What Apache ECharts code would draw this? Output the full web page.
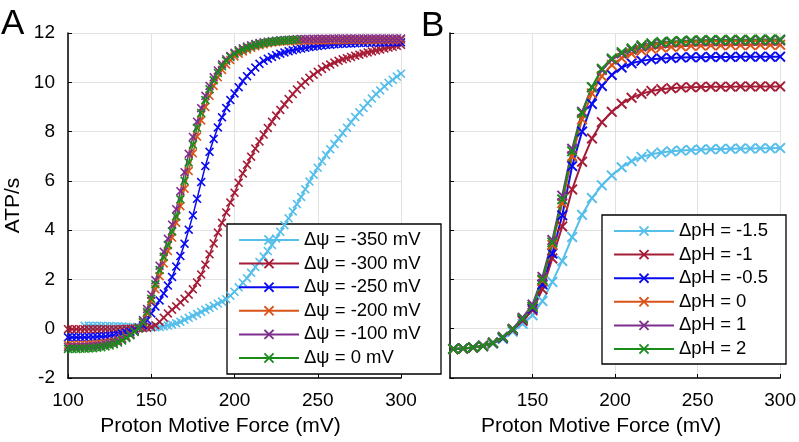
<!DOCTYPE html>
<html><head><meta charset="utf-8">
<script src="https://cdn.jsdelivr.net/npm/echarts/dist/echarts.min.js"></script>
<style>html,body{margin:0;padding:0;background:#fff}#c{width:799px;height:442px}</style>
</head><body><div id="c"></div>
<script>
// ---------- Panel A: ATP/s vs proton motive force at fixed membrane potential ----------
const pmfA = [100,102.5,105,107.5,110,112.5,115,117.5,120,122.5,125,127.5,130,132.5,135,137.5,140,142.5,145,147.5,150,152.5,155,157.5,160,162.5,165,167.5,170,172.5,175,177.5,180,182.5,185,187.5,190,192.5,195,197.5,200,202.5,205,207.5,210,212.5,215,217.5,220,222.5,225,227.5,230,232.5,235,237.5,240,242.5,245,247.5,250,252.5,255,257.5,260,262.5,265,267.5,270,272.5,275,277.5,280,282.5,285,287.5,290,292.5,295,297.5,300];
const psiM350 = [null,null,null,null,0.12,0.12,0.12,0.12,0.12,0.11,
  0.11,0.10,0.10,0.09,0.08,0.07,0.06,0.05,0.05,0.05,
  0.05,0.06,0.07,0.10,0.13,0.17,0.22,0.28,0.36,0.44,
  0.52,0.60,0.68,0.77,0.85,0.93,1.02,1.10,1.20,1.34,
  1.50,1.68,1.87,2.05,2.27,2.50,2.71,2.93,3.15,3.40,
  3.66,3.93,4.20,4.48,4.76,5.06,5.35,5.66,5.97,6.25,
  6.53,6.80,7.05,7.28,7.50,7.72,7.94,8.16,8.38,8.59,
  8.78,8.96,9.15,9.34,9.52,9.67,9.83,9.98,10.10,10.23,
  10.35];
const psiM300 = [-0.02,-0.02,-0.02,-0.02,-0.02,-0.02,-0.02,-0.02,-0.02,-0.02,
  -0.02,-0.02,-0.02,-0.01,0.00,0.00,0.01,0.01,0.02,0.04,
  0.07,0.14,0.28,0.45,0.62,0.77,0.91,1.07,1.22,1.38,
  1.60,1.88,2.20,2.60,3.02,3.46,3.90,4.30,4.72,5.12,
  5.52,5.92,6.30,6.65,6.98,7.31,7.60,7.88,8.15,8.40,
  8.65,8.88,9.10,9.32,9.52,9.71,9.88,10.03,10.18,10.31,
  10.43,10.54,10.64,10.72,10.80,10.87,10.93,10.98,11.03,11.08,
  11.12,11.17,11.21,11.25,11.29,11.33,11.37,11.41,11.44,11.48,
  11.52];
const psiM250 = [-0.35,-0.35,-0.35,-0.35,-0.35,-0.34,-0.34,-0.33,-0.32,-0.31,
  -0.29,-0.27,-0.25,-0.21,-0.17,-0.12,-0.06,0.02,0.14,0.35,
  0.62,0.90,1.15,1.43,1.75,2.10,2.52,2.95,3.45,4.02,
  4.60,5.27,5.95,6.60,7.18,7.70,8.17,8.58,8.96,9.28,
  9.55,9.80,10.05,10.25,10.43,10.60,10.75,10.87,10.96,11.03,
  11.10,11.16,11.21,11.26,11.30,11.34,11.37,11.40,11.43,11.45,
  11.47,11.49,11.51,11.52,11.54,11.55,11.56,11.57,11.57,11.58,
  11.59,11.59,11.60,11.60,11.61,11.61,11.61,11.62,11.62,11.62,
  11.62];
const psiM200 = [-0.66,-0.66,-0.66,-0.65,-0.65,-0.64,-0.63,-0.61,-0.60,-0.57,
  -0.55,-0.51,-0.46,-0.39,-0.31,-0.21,-0.10,0.03,0.25,0.62,
  1.12,1.60,2.13,2.65,3.15,3.70,4.30,4.97,5.68,6.40,
  7.12,7.80,8.45,9.00,9.45,9.85,10.20,10.50,10.72,10.90,
  11.05,11.16,11.25,11.33,11.40,11.46,11.50,11.54,11.58,11.61,
  11.63,11.65,11.66,11.67,11.68,11.68,11.69,11.69,11.70,11.70,
  11.70,11.70,11.71,11.71,11.71,11.71,11.71,11.72,11.72,11.72,
  11.72,11.72,11.72,11.72,11.72,11.73,11.73,11.73,11.73,11.73,
  11.73];
const psiM100 = [-0.74,-0.74,-0.74,-0.73,-0.73,-0.72,-0.71,-0.69,-0.67,-0.64,
  -0.61,-0.56,-0.50,-0.43,-0.34,-0.23,-0.10,0.06,0.35,0.80,
  1.38,1.97,2.56,3.12,3.65,4.22,4.85,5.58,6.35,7.10,
  7.78,8.40,8.95,9.45,9.85,10.20,10.48,10.73,10.93,11.07,
  11.20,11.30,11.38,11.45,11.50,11.55,11.59,11.62,11.65,11.67,
  11.69,11.71,11.72,11.73,11.74,11.75,11.76,11.76,11.76,11.77,
  11.77,11.77,11.77,11.77,11.78,11.78,11.78,11.78,11.78,11.78,
  11.78,11.78,11.78,11.78,11.78,11.78,11.78,11.78,11.78,11.78,
  11.78];
const psi0 = [-0.82,-0.82,-0.82,-0.81,-0.81,-0.80,-0.79,-0.77,-0.75,-0.72,
  -0.68,-0.63,-0.56,-0.48,-0.38,-0.27,-0.13,0.02,0.28,0.68,
  1.22,1.80,2.38,2.92,3.40,3.95,4.55,5.25,6.00,6.75,
  7.47,8.15,8.75,9.28,9.72,10.08,10.38,10.65,10.87,11.03,
  11.15,11.25,11.33,11.40,11.46,11.51,11.55,11.59,11.62,11.65,
  11.67,11.69,11.70,11.71,11.72,11.73,null,null,null,null,
  null,null,null,null,null,null,null,null,null,null,
  null,null,null,null,null,null,null,null,null,null,
  null];
const namesA = ['Δψ = -350 mV','Δψ = -300 mV','Δψ = -250 mV','Δψ = -200 mV','Δψ = -100 mV','Δψ = 0 mV'];

// ---------- Panel B: ATP/s vs proton motive force at fixed pH gradient ----------
const pmfB = [102,108,114,120,126,132,138,144,150,156,162,168,174,180,186,192,198,204,210,216,222,228,234,240,246,252,258,264,270,276,282,288,294,300];
const phM15 = [-0.82,-0.80,-0.76,-0.70,-0.60,-0.42,-0.12,0.20,0.55,1.12,1.90,2.75,3.72,4.62,5.30,5.82,6.22,6.55,6.80,6.97,7.08,7.15,7.20,7.23,7.25,7.27,7.28,7.29,7.30,7.31,7.31,7.32,7.32,7.33];
const phM1 = [-0.82,-0.80,-0.76,-0.70,-0.58,-0.38,-0.06,0.32,0.75,1.60,2.85,4.15,5.65,6.78,7.72,8.38,8.80,9.13,9.37,9.53,9.65,9.72,9.76,9.79,9.80,9.81,9.82,9.82,9.82,9.83,9.83,9.83,9.83,9.83];
const phM05 = [-0.82,-0.80,-0.76,-0.70,-0.58,-0.37,-0.04,0.38,0.82,1.80,3.05,4.60,6.60,8.00,9.12,9.85,10.30,10.60,10.77,10.87,10.93,10.97,10.99,11.01,11.02,11.02,11.03,11.03,11.03,11.04,11.04,11.04,11.04,11.04];
const ph0 = [-0.83,-0.81,-0.77,-0.70,-0.57,-0.35,-0.03,0.40,0.88,1.95,3.40,5.10,7.00,8.50,9.55,10.25,10.70,10.98,11.16,11.28,11.36,11.41,11.44,11.46,11.48,11.49,11.50,11.50,11.51,11.51,11.51,11.52,11.52,11.52];
const ph1 = [-0.82,-0.80,-0.76,-0.69,-0.56,-0.33,0.00,0.45,0.98,2.10,3.60,5.40,7.30,8.80,9.80,10.50,10.92,11.17,11.33,11.45,11.53,11.58,11.62,11.64,11.66,11.67,11.68,11.68,11.69,11.69,11.69,11.70,11.70,11.70];
const ph2 = [-0.82,-0.80,-0.76,-0.70,-0.57,-0.35,-0.02,0.40,0.90,2.00,3.50,5.25,7.20,8.75,9.80,10.55,10.97,11.22,11.38,11.50,11.58,11.63,11.66,11.68,11.70,11.71,11.72,11.72,11.73,11.73,11.73,11.74,11.74,11.74];
const namesB = ['ΔpH = -1.5','ΔpH = -1','ΔpH = -0.5','ΔpH = 0','ΔpH = 1','ΔpH = 2'];

const colors = ['#55BEEA','#A51C36','#0A0AF0','#D95319','#7E2F8E','#1A8C1A'];
const FONT = '"Liberation Sans", Arial, Helvetica, sans-serif';
const XSYM = 'path://M0,2.5L2.5,0L10,7.5L17.5,0L20,2.5L12.5,10L20,17.5L17.5,20L10,12.5L2.5,20L0,17.5L7.5,10Z';

function pairs(xs, ys) {
  const out = [];
  for (let i = 0; i < xs.length; i++) if (ys[i] !== null) out.push([xs[i], ys[i]]);
  return out;
}
const seriesA = [psiM350, psiM300, psiM250, psiM200, psiM100, psi0];
const seriesB = [phM15, phM1, phM05, ph0, ph1, ph2];

const series = [];
seriesA.forEach((ys, i) => series.push({
  type: 'line', name: namesA[i], xAxisIndex: 0, yAxisIndex: 0,
  data: pairs(pmfA, ys), symbol: XSYM, symbolSize: 9,
  itemStyle: { color: colors[i] }, lineStyle: { color: colors[i], width: 1.5 },
  silent: true, clip: false
}));
seriesB.forEach((ys, i) => series.push({
  type: 'line', name: namesB[i], xAxisIndex: 1, yAxisIndex: 1,
  data: pairs(pmfB, ys), symbol: XSYM, symbolSize: 11,
  itemStyle: { color: colors[i] }, lineStyle: { color: colors[i], width: 2 },
  silent: true, clip: false
}));

function xAx(idx, showMin) {
  return {
    type: 'value', gridIndex: idx, min: 100, max: 300, interval: 50,
    name: 'Proton Motive Force (mV)', nameLocation: 'middle', nameGap: 38,
    nameTextStyle: { fontSize: 21, color: '#000', fontFamily: FONT, padding: [0, 28, 0, 0] },
    axisLine: { show: true, onZero: false, lineStyle: { color: '#000', width: 1.5 } },
    axisTick: { show: true, inside: true, length: 4, lineStyle: { color: '#000', width: 1 } },
    axisLabel: { fontSize: 19, color: '#000', fontFamily: FONT, margin: 13, showMinLabel: showMin },
    splitLine: { show: true, lineStyle: { color: '#E2E2E2', width: 1 } }
  };
}
function yAx(idx, labels) {
  return {
    type: 'value', gridIndex: idx, min: -2, max: 12, interval: 2,
    name: labels ? 'ATP/s' : '', nameLocation: 'middle', nameGap: 44,
    nameTextStyle: { fontSize: 21, color: '#000', fontFamily: FONT },
    axisLine: { show: true, onZero: false, lineStyle: { color: '#000', width: 1.5 } },
    axisTick: { show: true, inside: true, length: 4, lineStyle: { color: '#000', width: 1 } },
    axisLabel: { show: labels, fontSize: 19, color: '#000', fontFamily: FONT, margin: 13 },
    splitLine: { show: true, lineStyle: { color: '#E2E2E2', width: 1 } }
  };
}
function legendOf(names, left, top) {
  return {
    data: names, orient: 'vertical', left: left, top: top, padding: 0,
    itemWidth: 60, itemHeight: 13, itemGap: 3.6, selectedMode: false, z: 5,
    textStyle: { fontSize: 18.5, lineHeight: 20, color: '#000', fontFamily: FONT }
  };
}

const chart = echarts.init(document.getElementById('c'), null, { renderer: 'canvas' });
chart.setOption({
  animation: false,
  backgroundColor: '#fff',
  textStyle: { fontFamily: FONT },
  grid: [
    { left: 68, top: 33, width: 333, height: 347 },
    { left: 450, top: 33, width: 334, height: 347 }
  ],
  xAxis: [xAx(0, true), xAx(1, false)],
  yAxis: [yAx(0, true), yAx(1, false)],
  legend: [legendOf(namesA, 238, 230), legendOf(namesB, 613, 221)],
  graphic: [
    { type: 'rect', z: 3, shape: { x: 227, y: 224, width: 214, height: 150 }, style: { fill: '#fff', stroke: '#000', lineWidth: 1.3 } },
    { type: 'rect', z: 3, shape: { x: 602, y: 215, width: 184, height: 149 }, style: { fill: '#fff', stroke: '#000', lineWidth: 1.3 } },
    { type: 'text', z: 3, x: 1, y: 24, style: { text: 'A', font: '35px ' + FONT, fill: '#000', verticalAlign: 'middle' } },
    { type: 'text', z: 3, x: 421, y: 26, style: { text: 'B', font: '35px ' + FONT, fill: '#000', verticalAlign: 'middle' } }
  ],
  series: series
});
</script>
</body></html>
